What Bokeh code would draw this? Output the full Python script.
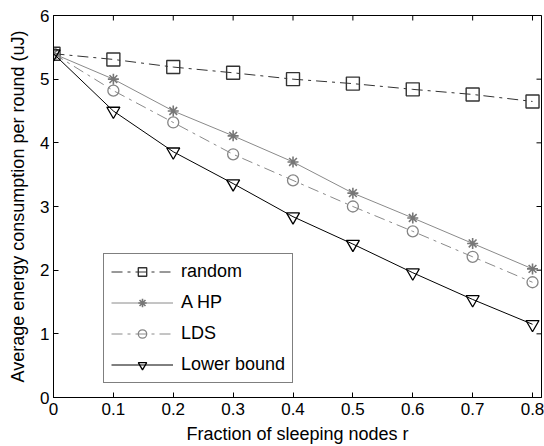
import math
from bokeh.plotting import figure
from bokeh.models import FixedTicker, Legend, LegendItem, Range1d
from bokeh.embed import file_html
from bokeh.resources import INLINE

# Fraction of sleeping nodes and the per-round energy of each scheme
r_values = [0.0, 0.1, 0.2, 0.3, 0.4, 0.5, 0.6, 0.7, 0.8]
random_energy = [5.4, 5.31, 5.19, 5.1, 5.0, 4.93, 4.84, 4.76, 4.65]
ahp_energy = [5.4, 5.0, 4.5, 4.11, 3.7, 3.21, 2.82, 2.42, 2.02]
lds_energy = [5.4, 4.82, 4.32, 3.82, 3.41, 3.0, 2.61, 2.21, 1.81]
lower_bound_energy = [5.4, 4.5, 3.86, 3.36, 2.84, 2.41, 1.96, 1.54, 1.15]

x_ticks = [0, 0.1, 0.2, 0.3, 0.4, 0.5, 0.6, 0.7, 0.8]
x_tick_labels = ["0", "0.1", "0.2", "0.3", "0.4", "0.5", "0.6", "0.7", "0.8"]
y_ticks = [0, 1, 2, 3, 4, 5, 6]

X_MAX = 0.815
Y_MAX = 6
FONT = "Liberation Sans"

p = figure(width=544, height=446, output_backend="svg", toolbar_location=None,
           x_range=Range1d(0, X_MAX), y_range=Range1d(0, Y_MAX),
           x_axis_label="Fraction of sleeping nodes r",
           y_axis_label="Average energy consumption per round (uJ)",
           min_border_left=53, min_border_right=3, min_border_top=15,
           min_border_bottom=49)
p.xgrid.visible = False
p.ygrid.visible = False
p.outline_line_color = "black"
p.outline_line_width = 1
p.background_fill_color = "white"
p.border_fill_color = "white"

for ax in (p.xaxis[0], p.yaxis[0]):
    ax.major_tick_in = 5
    ax.major_tick_out = 0
    ax.minor_tick_in = 0
    ax.minor_tick_out = 0
    ax.axis_line_color = "black"
    ax.major_tick_line_color = "black"
    ax.major_label_text_font = FONT
    ax.major_label_text_font_size = "17px"
    ax.major_label_text_color = "black"
    ax.axis_label_text_font = FONT
    ax.axis_label_text_font_size = "18px"
    ax.axis_label_text_font_style = "normal"
    ax.axis_label_text_color = "black"

p.xaxis[0].ticker = FixedTicker(ticks=x_ticks)
p.xaxis[0].major_label_overrides = {t: s for t, s in zip(x_ticks, x_tick_labels)}
p.xaxis[0].major_label_standoff = 5
p.xaxis[0].axis_label_standoff = 6
p.yaxis[0].ticker = FixedTicker(ticks=y_ticks)
p.yaxis[0].major_label_standoff = 4
p.yaxis[0].axis_label_standoff = 9

# Inward tick marks along the top and right edges of the box (clipped to the frame)
p.scatter(x_ticks, [Y_MAX] * len(x_ticks), marker="dash", size=10, angle=math.pi / 2,
          line_color="black", line_width=1)
p.scatter([X_MAX] * len(y_ticks), y_ticks, marker="dash", size=10,
          line_color="black", line_width=1)

dashdot = "11 5 3 5"

l_rand = p.line(r_values, random_energy, line_color="#333333", line_width=1, line_dash=dashdot)
m_rand = p.scatter(r_values, random_energy, marker="square", size=13, fill_color=None,
                   line_color="#333333", line_width=1.4)

l_ahp = p.line(r_values, ahp_energy, line_color="#8a8a8a", line_width=1)
m_ahp = p.scatter(r_values, ahp_energy, marker="asterisk", size=11,
                  line_color="#777777", line_width=1.6)

l_lds = p.line(r_values, lds_energy, line_color="#8a8a8a", line_width=1, line_dash=dashdot)
m_lds = p.scatter(r_values, lds_energy, marker="circle", size=11, fill_color=None,
                  line_color="#858585", line_width=1.3)

l_lb = p.line(r_values, lower_bound_energy, line_color="black", line_width=1)
m_lb = p.scatter(r_values, lower_bound_energy, marker="inverted_triangle", size=13,
                 fill_color=None, line_color="black", line_width=1.3)

legend = Legend(items=[
    LegendItem(label="random", renderers=[l_rand, m_rand]),
    LegendItem(label="A HP", renderers=[l_ahp, m_ahp]),
    LegendItem(label="LDS", renderers=[l_lds, m_lds]),
    LegendItem(label="Lower bound", renderers=[l_lb, m_lb]),
], location=(50, 14))
legend.glyph_width = 62
legend.glyph_height = 21
legend.spacing = 10
legend.padding = 7
legend.margin = 0
legend.label_standoff = 8
legend.label_height = 21
legend.label_text_font = FONT
legend.label_text_font_size = "18px"
legend.label_text_color = "black"
legend.border_line_color = "black"
legend.border_line_width = 1
legend.background_fill_color = "white"
p.add_layout(legend)

open("out.html", "w").write(file_html(p, INLINE))
